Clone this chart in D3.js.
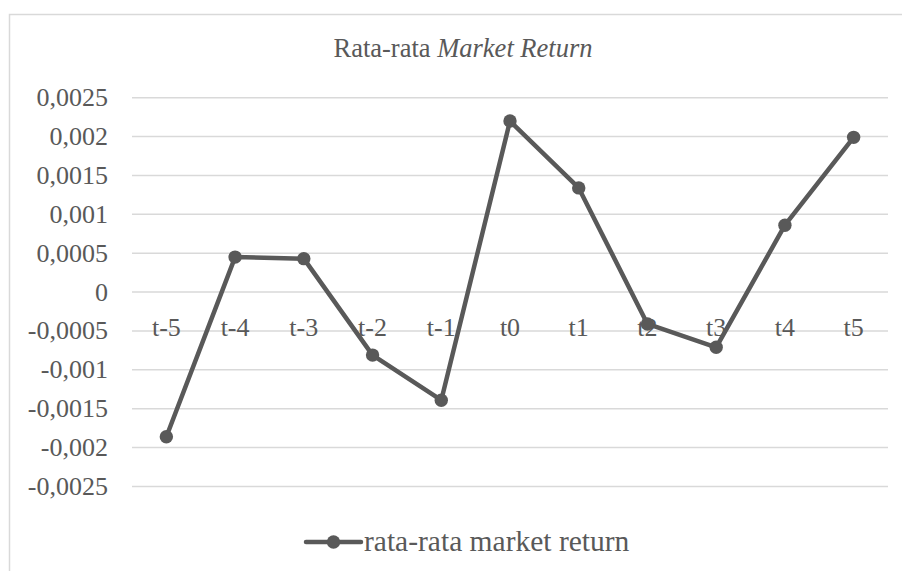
<!DOCTYPE html>
<html>
<head>
<meta charset="utf-8">
<script src="https://cdn.jsdelivr.net/npm/d3@7"></script>
<style>
  body { margin: 0; background: #fff; }
</style>
</head>
<body>
<svg id="chart" width="902" height="571"></svg>
<script>
// values
var categories = ["t-5", "t-4", "t-3", "t-2", "t-1", "t0", "t1", "t2", "t3", "t4", "t5"];
var marketReturn = [-0.00186, 0.00045, 0.00043, -0.00081, -0.00139, 0.0022, 0.00134, -0.00041, -0.00071, 0.00086, 0.00199];
var yTicks = [-0.0025, -0.002, -0.0015, -0.001, -0.0005, 0, 0.0005, 0.001, 0.0015, 0.002, 0.0025];
var seriesName = "rata-rata market return";

var FONT = "'Liberation Serif', 'Times New Roman', Times, serif";
var grey = "#595959";
var svg = d3.select("#chart");

// chart area border, runs off the right and bottom like the reference crop
svg.append("rect")
  .attr("x", 9.5).attr("y", 14.5)
  .attr("width", 920).attr("height", 600)
  .attr("fill", "none")
  .attr("stroke", "#d9d9d9")
  .attr("stroke-width", 1.5);

var title = svg.append("text")
  .attr("x", 463).attr("y", 57)
  .attr("text-anchor", "middle")
  .attr("fill", grey)
  .style("font-family", FONT)
  .style("font-size", "26.5px");
title.append("tspan").text("Rata-rata ");
title.append("tspan").style("font-style", "italic").text("Market Return");

var x = d3.scaleBand().domain(categories).range([132, 888]);
var y = d3.scaleLinear().domain([-0.0025, 0.0025]).range([486.5, 97.7]);

function fmt(v) {
  if (v === 0) return "0";
  return String(+v.toFixed(4)).replace(".", ",");
}

// gridlines
svg.append("g")
  .selectAll("line")
  .data(yTicks)
  .enter().append("line")
  .attr("x1", 132).attr("x2", 888)
  .attr("y1", function(d) { return y(d); })
  .attr("y2", function(d) { return y(d); })
  .attr("stroke", "#d9d9d9")
  .attr("stroke-width", 1.5);

// y labels
svg.append("g")
  .selectAll("text")
  .data(yTicks)
  .enter().append("text")
  .attr("x", 108)
  .attr("y", function(d) { return y(d) + 8.5; })
  .attr("text-anchor", "end")
  .attr("fill", grey)
  .style("font-family", FONT)
  .style("font-size", "26px")
  .text(fmt);

// category labels sit just under the zero line
svg.append("g")
  .selectAll("text")
  .data(categories)
  .enter().append("text")
  .attr("x", function(d) { return x(d) + x.bandwidth() / 2; })
  .attr("y", y(0) + 44)
  .attr("text-anchor", "middle")
  .attr("fill", grey)
  .style("font-family", FONT)
  .style("font-size", "26px")
  .text(function(d) { return d; });

var data = categories.map(function(c, i) { return {cat: c, val: marketReturn[i]}; });

var line = d3.line()
  .x(function(d) { return x(d.cat) + x.bandwidth() / 2; })
  .y(function(d) { return y(d.val); });

svg.append("path")
  .datum(data)
  .attr("d", line)
  .attr("fill", "none")
  .attr("stroke", grey)
  .attr("stroke-width", 4.5)
  .attr("stroke-linejoin", "round");

svg.append("g")
  .selectAll("circle")
  .data(data)
  .enter().append("circle")
  .attr("cx", function(d) { return x(d.cat) + x.bandwidth() / 2; })
  .attr("cy", function(d) { return y(d.val); })
  .attr("r", 6.7)
  .attr("fill", grey);

// legend
var lg = svg.append("g").attr("transform", "translate(306,542)");
lg.append("line")
  .attr("x1", 0).attr("x2", 55)
  .attr("stroke", grey).attr("stroke-width", 4.5)
  .attr("stroke-linecap", "round");
lg.append("circle").attr("cx", 27.5).attr("r", 6.7).attr("fill", grey);
lg.append("text")
  .attr("x", 58).attr("y", 8.5)
  .attr("fill", grey)
  .style("font-family", FONT)
  .style("font-size", "29.5px")
  .text(seriesName);
</script>
</body>
</html>
